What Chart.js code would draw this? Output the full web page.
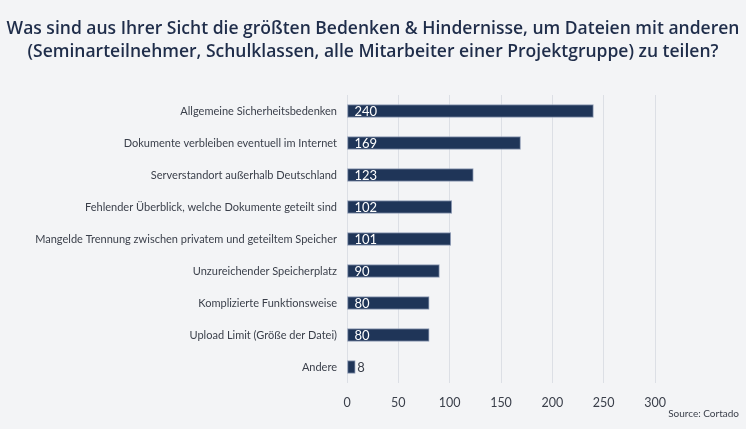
<!DOCTYPE html>
<html><head><meta charset="utf-8">
<script src="https://cdn.jsdelivr.net/npm/chart.js@4"></script>
<style>
html,body{margin:0;padding:0;background:#f3f4f6;}
#wrap{width:746px;height:429px;position:relative;}
</style></head>
<body><div id="wrap"><canvas id="c" width="746" height="429"></canvas></div>
<script>
const categories = [
  "Allgemeine Sicherheitsbedenken",
  "Dokumente verbleiben eventuell im Internet",
  "Serverstandort außerhalb Deutschland",
  "Fehlender Überblick, welche Dokumente geteilt sind",
  "Mangelde Trennung zwischen privatem und geteiltem Speicher",
  "Unzureichender Speicherplatz",
  "Komplizierte Funktionsweise",
  "Upload Limit (Größe der Datei)",
  "Andere"
];
const values = [240, 169, 123, 102, 101, 90, 80, 80, 8];
const xTicks = [0, 50, 100, 150, 200, 250, 300];
const titleLines = [
  "Was sind aus Ihrer Sicht die größten Bedenken & Hindernisse, um Dateien mit anderen",
  "(Seminarteilnehmer, Schulklassen, alle Mitarbeiter einer Projektgruppe) zu teilen?"
];
const sourceText = "Source: Cortado";

const FONT = "Lato, 'Open Sans', sans-serif";
const NAVY = "#1f3558";

const valueLabels = {
  id: 'valueLabels',
  afterDatasetsDraw(chart) {
    const ctx = chart.ctx;
    const meta = chart.getDatasetMeta(0);
    ctx.save();
    ctx.font = "13px " + FONT;
    ctx.textBaseline = "middle";
    meta.data.forEach((bar, i) => {
      const txt = String(values[i]);
      const w = ctx.measureText(txt).width;
      const barW = bar.x - bar.base;
      if (barW > w + 12) {
        ctx.fillStyle = "#ffffff";
        ctx.fillText(txt, bar.base + 7, bar.y + 1);
      } else {
        ctx.fillStyle = "#3a3f4a";
        ctx.fillText(txt, bar.x + 2, bar.y + 1);
      }
    });
    ctx.restore();
  },
  afterDraw(chart) {
    const ctx = chart.ctx;
    ctx.save();
    ctx.font = "10px " + FONT;
    ctx.fillStyle = "#3a3f4a";
    ctx.textAlign = "right";
    ctx.textBaseline = "middle";
    ctx.fillText(sourceText, 739, 414);
    ctx.restore();
  }
};

new Chart(document.getElementById('c'), {
  type: 'bar',
  data: {
    labels: categories,
    datasets: [{
      data: values,
      backgroundColor: NAVY,
      borderColor: "#8d9ab3",
      borderWidth: 1,
      borderSkipped: false,
      barThickness: 13
    }]
  },
  options: {
    indexAxis: 'y',
    responsive: false,
    animation: false,
    layout: { padding: { left: 0, right: 0, top: 0, bottom: 7 } },
    plugins: {
      legend: { display: false },
      tooltip: { enabled: false },
      title: {
        display: true,
        text: titleLines,
        color: "#1f2d4a",
        font: { family: "'Open Sans', Lato, sans-serif", size: 17.5, weight: 600, lineHeight: 1.3 },
        padding: { top: 18, bottom: 31.5 }
      }
    },
    scales: {
      x: {
        min: 0, max: 300,
        afterBuildTicks(s) { s.ticks = xTicks.map(v => ({ value: v })); },
        grid: { color: "#dcdfe5", drawTicks: false },
        border: { display: false },
        ticks: { color: "#3a3f4a", font: { family: FONT, size: 12.5 }, padding: 12 }
      },
      y: {
        grid: { display: false },
        border: { display: false },
        afterFit(s) { s.width = 347; },
        ticks: { color: "#3a3f4a", font: { family: FONT, size: 11 }, padding: 2 }
      },
      yRight: {
        position: 'right',
        display: true,
        grid: { display: false },
        border: { display: false },
        ticks: { display: false },
        afterFit(s) { s.width = 91; }
      }
    }
  },
  plugins: [valueLabels]
});
</script></body></html>
